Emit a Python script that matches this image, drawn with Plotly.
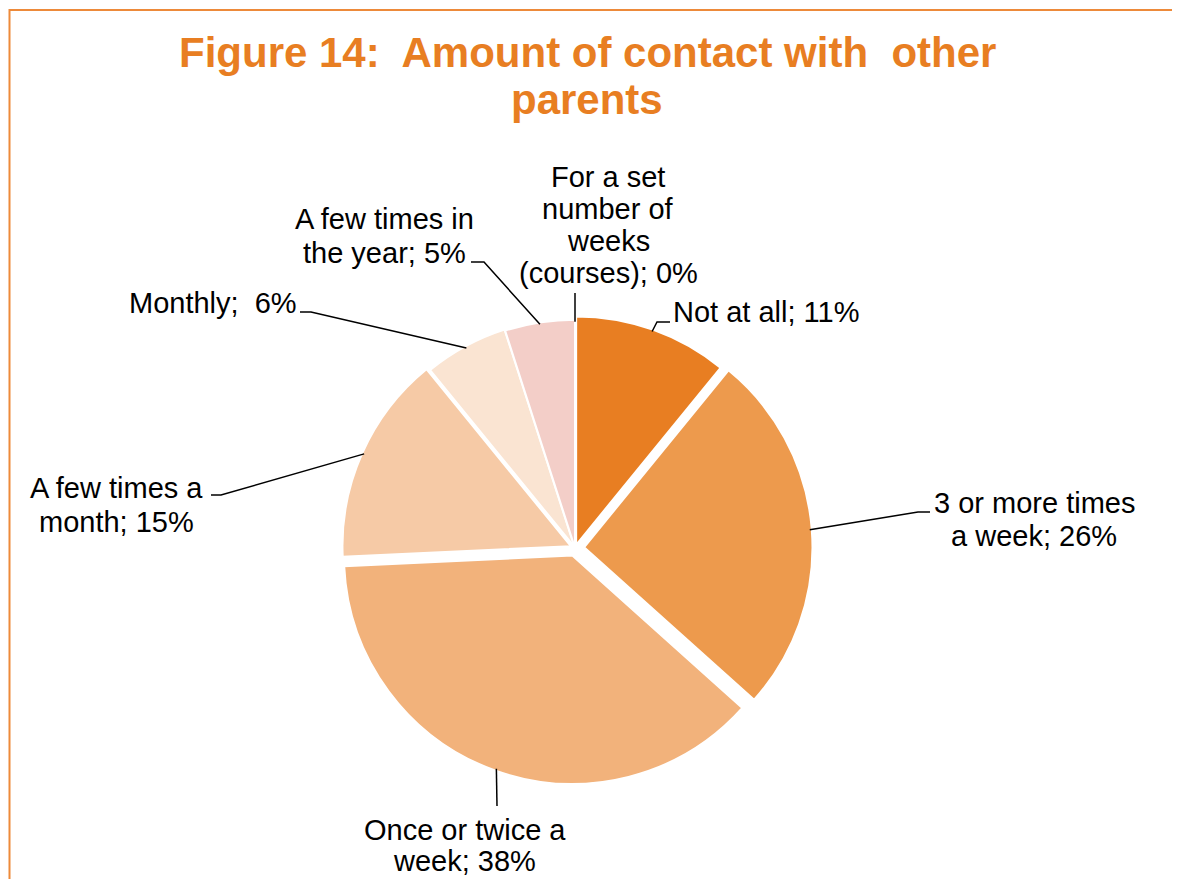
import numpy as np
import plotly.graph_objects as go

# Survey answers (clockwise from 12 o'clock)
categories = ["Not at all", "3 or more times a week", "Once or twice a week",
              "A few times a month", "Monthly", "A few times in the year",
              "For a set number of weeks (courses)"]
percent = [11, 26, 38, 15, 6, 5, 0]
label_lines = [
    ["Not at all; 11%"],
    ["3 or more times", "a week; 26%"],
    ["Once or twice a", "week; 38%"],
    ["A few times a", "month; 15%"],
    ["Monthly;  6%"],
    ["A few times in", "the year; 5%"],
    ["For a set", "number of", "weeks", "(courses); 0%"],
]
title_lines = ["Figure 14:  Amount of contact with  other", "parents"]

colors = ["#E87E22", "#ED9A4D", "#F2B27B", "#F6CAA6", "#FAE4D2", "#F3CEC8", "#DCE6F2"]
pulls = [0.015, 0.04, 0.035, 0.02, 0.005, 0.0, 0.0]

OFF = 8                    # page body margin of the html output
W, H = 1180 - OFF, 879 - OFF
cx, cy = 575, 548          # pie centre in px (page coords)
box = 475                  # pie domain size in px
r = box / (2 + 2 * max(pulls))

# label: centre x and first-line centre y (px), line step; leader elbows (px)
label_pos = [(766, 312), (1034, 503), (465, 830), (116, 488), (213, 303), (384, 219), (608, 177)]
line_step = [33, 33, 31, 34, 33, 34, 32]
elbows = [
    [(657, 322), (670, 322)],
    [(918, 512), (930, 512)],
    [(497, 806)],
    [(221, 495), (211, 495)],
    [(311, 312), (300, 312)],
    [(484, 262), (471, 262)],
    [(575, 293)],
]


def px2paper(x, y):
    return (x - OFF) / W, 1 - (y - OFF) / H


x0p, y1p = px2paper(cx - box / 2, cy - box / 2)
x1p, y0p = px2paper(cx + box / 2, cy + box / 2)

fig = go.Figure(go.Pie(
    labels=categories,
    values=percent,
    sort=False,
    direction="clockwise",
    rotation=0,
    pull=pulls,
    marker=dict(colors=colors, line=dict(color="white", width=2)),
    textinfo="none",
    hoverinfo="label+percent",
    showlegend=False,
    domain=dict(x=[x0p, x1p], y=[y0p, y1p]),
))

total = sum(percent)
cum = np.cumsum([0] + percent)
for i, lines in enumerate(label_lines):
    mid = (cum[i] + percent[i] / 2) / total * 2 * np.pi
    rr = r * (1 + pulls[i]) - 2
    sx = cx + rr * np.sin(mid)
    sy = cy - rr * np.cos(mid)
    pts = [(sx, sy)] + elbows[i]
    path = "M " + " L ".join("{},{}".format(*px2paper(x, y)) for x, y in pts)
    fig.add_shape(type="path", path=path, xref="paper", yref="paper",
                  line=dict(color="black", width=1.5))
    lx, ly = label_pos[i]
    for k, line in enumerate(lines):
        px_, py_ = px2paper(lx, ly + k * line_step[i])
        fig.add_annotation(x=px_, y=py_, xref="paper", yref="paper",
                           text=line, showarrow=False,
                           xanchor="center", yanchor="middle",
                           font=dict(family="Liberation Sans", size=29, color="black"))

# title
for k, line in enumerate(title_lines):
    tx, ty = px2paper(587, 52 + 48 * k)
    fig.add_annotation(x=tx, y=ty, xref="paper", yref="paper",
                       text="<b>" + line + "</b>", showarrow=False,
                       xanchor="center", yanchor="middle",
                       font=dict(family="Liberation Sans", size=42, color="#E87E22"))

# chart frame (left edge as close to the page edge as the figure allows)
fx0, fy1 = px2paper(OFF + 1.5, 10)
fig.add_shape(type="rect", xref="paper", yref="paper",
              x0=fx0, x1=1.05, y0=-0.05, y1=fy1,
              line=dict(color="#ED8A3A", width=2))

fig.update_layout(
    width=W, height=H,
    margin=dict(l=0, r=0, t=0, b=0),
    paper_bgcolor="white",
    plot_bgcolor="white",
)

fig.write_html("out.html")
